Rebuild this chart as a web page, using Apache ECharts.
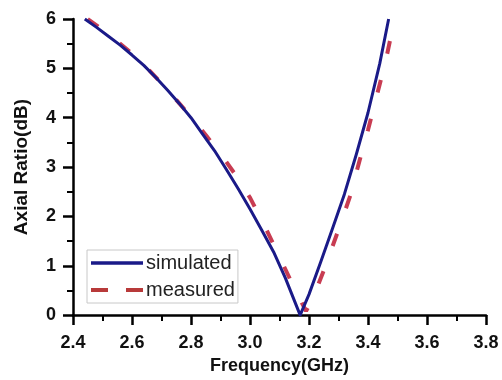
<!DOCTYPE html>
<html>
<head>
<meta charset="utf-8">
<script src="https://cdn.jsdelivr.net/npm/echarts@6.0.0/dist/echarts.min.js"></script>
<style>
  html, body { margin: 0; padding: 0; background: #fff; }
  #chart { width: 502px; height: 380px; }
</style>
</head>
<body>
<div id="chart"></div>
<script>
// frequency (GHz) / axial ratio (dB)
const simFreq = [2.44, 2.48, 2.52, 2.56, 2.60, 2.64, 2.68, 2.72, 2.76, 2.80, 2.84, 2.88, 2.92, 2.96,
  3.00, 3.04, 3.08, 3.12, 3.17,
  3.20, 3.24, 3.28, 3.32, 3.36, 3.40, 3.44, 3.47]
const simAR = [6.0, 5.83, 5.65, 5.47, 5.27, 5.06, 4.82, 4.56, 4.29, 4.0, 3.66, 3.33, 2.95, 2.56,
  2.15, 1.72, 1.28, 0.75, 0.0,
  0.42, 1.08, 1.76, 2.45, 3.25, 4.1, 5.1, 6.0]

const measFreq = [2.45, 2.50, 2.55, 2.60, 2.65, 2.70, 2.75, 2.80, 2.85, 2.90, 2.95, 3.00, 3.05,
  3.10, 3.15, 3.19,
  3.21, 3.25, 3.30, 3.34, 3.37, 3.40, 3.43, 3.46, 3.49]
const measAR = [6.0, 5.78, 5.55, 5.3, 5.01, 4.7, 4.36, 4.02, 3.65, 3.27, 2.85, 2.38, 1.8,
  1.18, 0.55, 0.08,
  0.3, 0.9, 1.73, 2.42, 3.1, 3.75, 4.45, 5.15, 6.0]

const seriesNames = ['simulated', 'measured']

const font = '"Liberation Sans", Arial, sans-serif'
const zip = (xs, ys) => xs.map((x, i) => [x, ys[i]])

const chart = echarts.init(document.getElementById('chart'))

const axisCommon = {
  type: 'value',
  nameLocation: 'middle',
  nameTextStyle: { fontFamily: font, fontWeight: 'bold', fontSize: 18, color: '#111' },
  axisLine: { show: true, lineStyle: { color: '#000', width: 2.5 } },
  axisTick: { show: true, inside: false, length: 10, lineStyle: { color: '#000', width: 2.5 } },
  minorTick: { show: true, splitNumber: 2, length: 6, lineStyle: { color: '#000', width: 2 } },
  splitLine: { show: false },
  minorSplitLine: { show: false },
}

chart.setOption({
  backgroundColor: '#fff',
  animation: false,
  grid: { left: 73, right: 16, top: 19, bottom: 57, containLabel: false },
  xAxis: {
    ...axisCommon,
    name: 'Frequency(GHz)',
    nameGap: 38,
    min: 2.4,
    max: 3.8,
    interval: 0.2,
    axisLabel: {
      margin: 19,
      fontFamily: font, fontWeight: 'bold', fontSize: 18, color: '#111',
      formatter: (v) => v.toFixed(1),
    },
  },
  yAxis: {
    ...axisCommon,
    name: 'Axial Ratio(dB)',
    nameGap: 42,
    nameTextStyle: { fontFamily: font, fontWeight: 'bold', fontSize: 19, color: '#111' },
    min: 0,
    max: 6,
    interval: 1,
    axisLabel: {
      margin: 17,
      fontFamily: font, fontWeight: 'bold', fontSize: 18, color: '#111',
    },
  },
  legend: {
    show: true,
    orient: 'vertical',
    left: 87,
    top: 250,
    padding: [3, 3, 3, 2],
    borderColor: '#c8c8c8',
    borderWidth: 1,
    itemWidth: 52,
    itemHeight: 18,
    itemGap: 7,
    textStyle: { fontFamily: font, fontSize: 20, color: '#222', padding: [0, 0, 0, -2] },
    data: [
      { name: seriesNames[0], itemStyle: { opacity: 0 }, lineStyle: { width: 3.5, color: '#1a1a88' } },
      { name: seriesNames[1], itemStyle: { opacity: 0 }, lineStyle: { width: 4, color: '#b83a3a', type: [17, 18] } },
    ],
  },
  series: [
    {
      name: seriesNames[0],
      type: 'line',
      data: zip(simFreq, simAR),
      symbol: 'none',
      clip: true,
      z: 2,
      lineStyle: { color: '#1a1a88', width: 3, join: 'round' },
      itemStyle: { color: '#1a1a88' },
    },
    {
      name: seriesNames[1],
      type: 'line',
      data: zip(measFreq, measAR),
      symbol: 'none',
      clip: true,
      z: 1,
      lineStyle: { color: '#c83c52', width: 4, type: [13, 27], cap: 'butt' },
      itemStyle: { color: '#c83c52' },
    },
  ],
})
</script>
</body>
</html>
